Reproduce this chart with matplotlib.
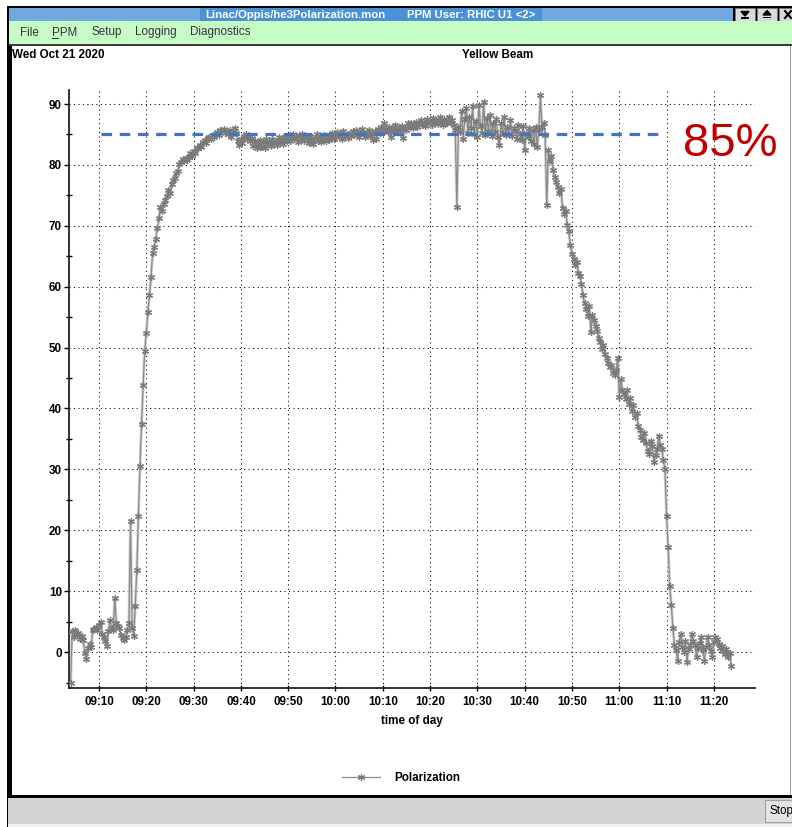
import numpy as np
import matplotlib.pyplot as plt
from matplotlib.patches import Rectangle, Polygon
from matplotlib.ticker import MultipleLocator

W, H = 792, 827
plt.rcParams['font.family'] = ['Liberation Sans', 'DejaVu Sans']

# polarization readings (%), one every 20 s, first one at 09:04:00
polarization = [
    # 09:04
    -5.0, 3.4, 2.4, 3.7, 2.9, 3.2, 2.2, 2.7, 2.0, -0.2, -1.1, 0.6, 1.4, 0.8, 3.6,
    # 09:09
    3.8, 4.1, 3.7, 4.4, 5.0, 3.0, 2.5, 1.8, 1.0, 3.5, 5.2, 4.0, 3.6, 8.9, 4.8,
    # 09:14
    4.3, 3.9, 2.8, 2.3, 2.0, 2.4, 3.6, 4.8, 21.6, 4.0, 2.7, 7.6, 13.5, 22.4, 30.5,
    # 09:19
    37.5, 43.8, 49.5, 52.4, 55.9, 58.6, 61.6, 65.5, 66.5, 67.8, 69.6, 71.2, 73.1, 72.5, 73.6,
    # 09:24
    74.2, 74.9, 75.9, 75.4, 76.8, 77.5, 77.9, 78.6, 79.0, 80.1, 80.5, 80.9, 80.6, 81.2, 80.8,
    # 09:29
    81.3, 81.9, 81.5, 82.3, 82.0, 82.8, 82.7, 83.3, 82.9, 83.8, 84.1, 83.6, 84.4, 84.6, 84.2,
    # 09:34
    84.9, 84.5, 85.1, 85.4, 84.9, 85.7, 85.5, 85.9, 85.3, 85.6, 85.1, 85.8, 84.6, 85.4, 86.0,
    # 09:39
    85.3, 84.0, 83.2, 84.3, 83.6, 84.8, 85.0, 84.2, 84.7, 83.9, 84.4, 83.1, 84.0, 82.7, 83.5,
    # 09:44
    84.1, 83.0, 83.7, 82.8, 84.2, 83.4, 83.9, 83.1, 84.3, 83.6, 84.0, 83.2, 84.5, 83.7, 84.1,
    # 09:49
    83.4, 84.6, 84.0, 84.8, 83.9, 84.4, 85.0, 84.2, 84.7, 83.8, 84.9, 84.3, 85.1, 84.0, 84.6,
    # 09:54
    84.2, 83.6, 84.8, 84.1, 83.5, 84.4, 85.0, 84.0, 84.6, 83.7, 84.3, 84.9, 83.9, 84.5, 84.1,
    # 09:59
    84.7, 85.2, 84.3, 84.9, 85.4, 84.6, 85.1, 84.2, 85.6, 84.8, 85.0, 84.4, 85.3, 84.7, 85.5,
    # 10:04
    84.9, 85.7, 85.0, 84.5, 85.4, 85.9, 85.1, 84.6, 85.3, 85.8, 84.8, 85.2, 84.1, 85.5, 84.2,
    # 10:09
    85.9, 85.3, 86.2, 85.6, 86.8, 85.9, 85.4, 86.3, 84.6, 86.0, 85.5, 86.6, 85.8, 86.2, 85.7,
    # 10:14
    86.4, 84.4, 86.1, 85.7, 86.8, 86.2, 86.9, 86.0, 86.5, 87.1, 86.3, 86.8, 87.3, 86.6, 87.0,
    # 10:19
    86.4, 87.5, 86.8, 87.2, 86.5, 87.7, 86.9, 87.4, 86.7, 87.8, 87.1, 86.6, 87.5, 87.0, 86.8,
    # 10:24
    87.9, 86.9, 87.3, 86.6, 85.8, 73.1, 86.2, 85.4, 88.9, 84.2, 87.6, 89.4, 85.3, 87.9, 86.1,
    # 10:29
    89.6, 85.0, 87.2, 84.6, 89.9, 86.4, 85.3, 90.4, 84.9, 87.7, 85.6, 88.2, 84.8, 86.9, 85.4,
    # 10:34
    87.6, 84.5, 83.2, 86.8, 85.2, 87.9, 84.9, 86.3, 85.1, 87.4, 84.7, 86.0, 85.5, 84.2, 86.6,
    # 10:39
    85.0, 84.1, 86.4, 82.4, 85.2, 84.6, 86.1, 84.0, 85.7, 83.4, 86.3, 83.0, 85.8, 91.4, 86.2,
    # 10:44
    86.8, 84.9, 73.4, 82.4, 80.6, 81.5, 79.1, 78.0, 77.2, 76.3, 75.4, 76.0, 73.0, 71.9, 72.5,
    # 10:49
    70.2, 69.1, 66.8, 65.4, 64.6, 63.5, 64.1, 62.3, 61.8, 60.5, 58.6, 57.3, 56.4, 55.2, 56.8,
    # 10:54
    52.5, 55.4, 54.6, 53.5, 52.8, 51.6, 51.0, 49.8, 50.5, 48.9, 48.3, 47.4, 46.8, 47.2, 45.9,
    # 10:59
    45.5, 46.3, 48.3, 41.9, 44.8, 43.0, 42.4, 41.6, 43.1, 40.8, 41.7, 39.6, 40.5, 38.6, 39.2,
    # 11:04
    37.2, 36.4, 35.3, 34.8, 36.0, 34.3, 33.1, 32.5, 34.6, 33.8, 31.2, 32.4, 33.3, 35.5, 34.0,
    # 11:09
    33.4, 31.5, 30.0, 22.4, 17.3, 10.8, 7.8, 4.0, 1.2, 0.4, -1.4, 1.6, 3.0, 0.9, 0.0,
    # 11:14
    1.8, -1.6, 0.5, 1.2, 3.0, 1.9, 1.2, -0.8, 0.7, 1.5, 2.5, 0.3, -1.4, 0.8, 2.5,
    # 11:19
    1.1, 0.2, -0.8, 1.6, 2.5, 2.2, 1.4, 0.6, 1.0, 0.2, -0.3, 0.5, -0.8, -0.2, -2.3,
]
minutes = 4 + np.arange(len(polarization)) / 3  # minutes after 09:00

tick_minutes = [10, 20, 30, 40, 50, 60, 70, 80, 90, 100, 110, 120, 130, 140]
tick_labels = ["09:10", "09:20", "09:30", "09:40", "09:50", "10:00", "10:10",
               "10:20", "10:30", "10:40", "10:50", "11:00", "11:10", "11:20"]
y_ticks = [0, 10, 20, 30, 40, 50, 60, 70, 80, 90]

target_level = 85
target_start, target_end = 10.4, 129.7

menu_items = ["File", "PPM", "Setup", "Logging", "Diagnostics"]
menu_x = [20, 52, 91, 135, 190]

fig = plt.figure(figsize=(W / 100, H / 100), dpi=100)

# --- window chrome, drawn in pixel coords ---
bg = fig.add_axes([0, 0, 1, 1])
bg.set_xlim(0, W)
bg.set_ylim(H, 0)
bg.axis('off')

def box(x0, y0, x1, y1, **kw):
    bg.add_patch(Rectangle((x0, y0), x1 - x0, y1 - y0, **kw))

box(7, 6, W, 827, color='black', lw=0)
box(9, 8, 733, 20.5, color='#6fa9df', lw=0)
box(200, 8, 542, 20.5, color='#4a92d8', lw=0)
for bx in (735, 757, 779):
    box(bx, 8, bx + 20, 20.5, facecolor='#d9d9d9', edgecolor='#777777', lw=0.6)
bg.add_patch(Polygon([[741, 11.5], [749, 11.5], [745, 16]], color='black'))
box(741, 17, 749, 18.5, color='black', lw=0)
bg.add_patch(Polygon([[763, 15], [771, 15], [767, 10.5]], color='black'))
box(763, 16.5, 771, 18, color='black', lw=0)
bg.plot([785, 791], [11, 18], color='black', lw=1.5)
bg.plot([785, 791], [18, 11], color='black', lw=1.5)

fig.text(205 / W, 1 - 14.5 / H, "Linac/Oppis/he3Polarization.mon", color='white',
         fontsize=8.2, fontweight='bold', va='center')
fig.text(407 / W, 1 - 14.5 / H, "PPM User: RHIC U1 <2>", color='white',
         fontsize=8.2, fontweight='bold', va='center')

box(9, 21, W, 43.5, color='#c4fcc4', lw=0)
box(9, 43.5, W, 45.5, color='#3c3c3c', lw=0)
for label, mx in zip(menu_items, menu_x):
    fig.text(mx / W, 1 - 32.5 / H, label, color='#3a3040', fontsize=8.4, va='center')
box(52, 38.3, 58.5, 39.2, color='#3a3040', lw=0)

box(11.7, 45.5, W, 795, color='white', lw=0)
box(789.5, 45.5, 791, 795, color='#9a9a9a', lw=0)
box(8, 797.5, W, 824, color='#d3d3d3', lw=0)
box(8, 824, W, 827, color='#f2f2f2', lw=0)
box(765, 800, W, 822, facecolor='#e3e3e3', edgecolor='#a0a0a0', lw=0.8)
fig.text(769 / W, 1 - 811 / H, "Stop", fontsize=8.4, va='center', color='black')

fig.text(12.5 / W, 1 - 54.5 / H, "Wed Oct 21 2020", fontsize=8.4, fontweight='bold',
         va='center')
fig.text(498 / W, 1 - 54.5 / H, "Yellow Beam", fontsize=8.4, fontweight='bold',
         va='center', ha='center')

# --- the chart ---
ax = fig.add_axes([69 / W, 1 - 688 / H, 686 / W, 598 / H], zorder=2)
ax.set_facecolor('none')
ax.set_xlim(3.66, 148.7)
ax.set_ylim(-5.9, 92.3)

ax.plot(minutes, polarization, color='#d4d4d4', lw=2.2, zorder=2)
line, = ax.plot(minutes, polarization, color='#8a8a8a', lw=0.9,
                marker=(6, 2, 0), ms=5, mec='#7a7a7a', mew=0.9, zorder=3,
                label='Polarization')
ax.hlines(target_level, target_start, target_end, color='#4472c4', lw=2.3,
          linestyles=(0, (3.3, 2.4)), zorder=4)

ax.set_xticks(tick_minutes)
ax.set_xticklabels(tick_labels)
ax.set_yticks(y_ticks)
ax.yaxis.set_minor_locator(MultipleLocator(5))
ax.grid(True, which='major', color='black', lw=0.75, linestyle=(0, (1, 3.3)))
ax.tick_params(axis='x', direction='inout', length=5, width=1, pad=3,
               labelsize=8.4)
ax.tick_params(axis='y', which='major', direction='out', length=3.6, width=1,
               pad=1.5, labelsize=8.4)
ax.tick_params(axis='y', which='minor', direction='inout', length=4, width=1)
for lab in ax.get_xticklabels() + ax.get_yticklabels():
    lab.set_fontweight('bold')
for side in ('top', 'right'):
    ax.spines[side].set_visible(False)
for side in ('left', 'bottom'):
    ax.spines[side].set_linewidth(1.3)
    ax.spines[side].set_color('#222222')
ax.set_xlabel("time of day", fontsize=8.4, fontweight='bold', labelpad=5)

fig.legend(handles=[line], loc='center', bbox_to_anchor=(401 / W, 1 - 778 / H),
           frameon=False, fontsize=8.4, handlelength=3.3, handletextpad=1.2,
           prop={'weight': 'bold', 'size': 8.4})

fig.text(683 / W, 1 - 156 / H, "85%", color='#c00000', fontsize=34,
         va='baseline')

fig.savefig('out.png', dpi=100)
